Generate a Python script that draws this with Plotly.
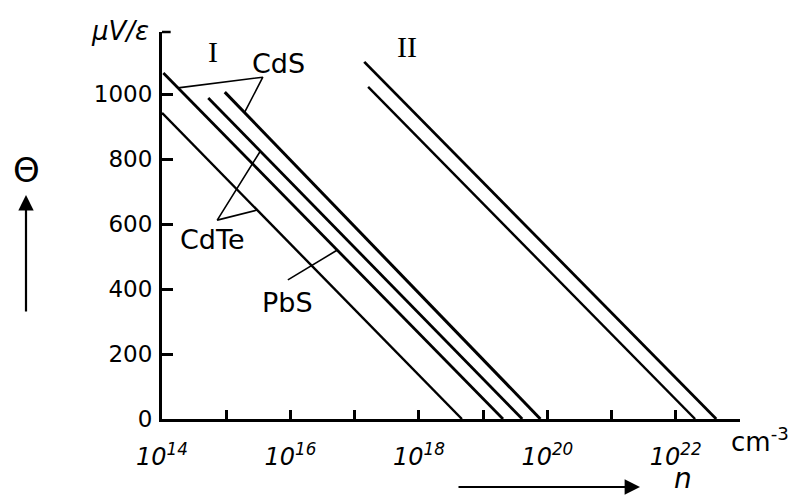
import plotly.graph_objects as go

# Thermoelectric power vs carrier concentration (straight lines on log n)
# Group I
pbs_n = [1.0e14, 4.68e18]
pbs_theta = [942, 0]

cds_a_n = [1.05e14, 2.04e19]
cds_a_theta = [1065, 0]

cdte_b_n = [5.25e14, 4.07e19]
cdte_b_theta = [988, 0]

cds_b_n = [9.5e14, 7.8e19]
cds_b_theta = [1006, 0]

# Group II
ii_upper_n = [1.41e17, 4.27e22]
ii_upper_theta = [1099, 0]

ii_lower_n = [1.62e17, 2.0e22]
ii_lower_theta = [1022, 0]

# Label leader lines (vertex first)
cds_ptr_n = [10.0**14.25, 10.0**15.57, 10.0**15.29]
cds_ptr_theta = [1019, 1052, 945]
cdte_ptr_n = [10.0**15.48, 10.0**14.86, 10.0**15.53]
cdte_ptr_theta = [643, 612, 824]
pbs_ptr_n = [10.0**15.96, 10.0**16.73]
pbs_ptr_theta = [428, 520]

# Axis ticks
x_tickvals = [10.0**k for k in range(14, 24)]
x_ticktext = ["10<sup>14</sup>", "", "10<sup>16</sup>", "", "10<sup>18</sup>", "",
              "10<sup>20</sup>", "", "10<sup>22</sup>", ""]
y_tickvals = [0, 200, 400, 600, 800, 1000]
y_ticktext = ["0", "200", "400", "600", "800", "1000"]

W, H = 795, 497
L, R, T, B = 162, 55, 32, 78
PW, PH = W - L - R, H - T - B


def px(x, y):
    return (x - L) / PW, (H - B - y) / PH


fig = go.Figure()

for xs, ys, w in [(pbs_n, pbs_theta, 2.4), (cds_a_n, cds_a_theta, 2.8),
                  (cdte_b_n, cdte_b_theta, 2.8), (cds_b_n, cds_b_theta, 3.0),
                  (ii_upper_n, ii_upper_theta, 2.8), (ii_lower_n, ii_lower_theta, 2.4)]:
    fig.add_trace(go.Scatter(x=xs, y=ys, mode="lines",
                             line=dict(color="black", width=w),
                             showlegend=False, hoverinfo="skip"))

for xs, ys in [(cds_ptr_n, cds_ptr_theta), (cdte_ptr_n, cdte_ptr_theta),
               (pbs_ptr_n, pbs_ptr_theta)]:
    fig.add_trace(go.Scatter(x=xs, y=ys, mode="lines",
                             line=dict(color="black", width=1.6),
                             showlegend=False, hoverinfo="skip"))

hand = "DejaVu Sans"

fig.update_xaxes(type="log", range=[14, 23], showline=True, linecolor="black",
                 linewidth=3, ticks="inside", ticklen=9, tickwidth=2.5,
                 tickcolor="black", tickvals=x_tickvals, ticktext=x_ticktext,
                 tickfont=dict(family=hand, size=24, color="black", style="italic"),
                 ticklabelstandoff=14, showgrid=False, zeroline=False)
fig.update_yaxes(range=[0, 1191], showline=True, linecolor="black", linewidth=3,
                 ticks="inside", ticklen=11, tickwidth=2.5, tickcolor="black",
                 tickvals=y_tickvals, ticktext=y_ticktext,
                 tickfont=dict(family=hand, size=23, color="black"),
                 ticklabelstandoff=2, showgrid=False, zeroline=False)

annotations = []


def text(x, y, s, size, family=hand, style="normal"):
    xp, yp = px(x, y)
    annotations.append(dict(x=xp, y=yp, xref="paper", yref="paper", text=s,
                            showarrow=False, xanchor="center", yanchor="middle",
                            font=dict(family=family, size=size, color="black",
                                      style=style)))


text(120, 31, "μV/ε", 26, style="italic")
text(213, 51, "I", 30, family="Liberation Serif")
text(407, 46, "II", 30, family="Liberation Serif")
text(278, 63, "CdS", 27)
text(212, 240, "CdTe", 27)
text(287, 302, "PbS", 27)
text(26, 170, "Θ", 34)
text(683, 478, "n", 28, style="italic")
text(760, 440, "cm<sup>-3</sup>", 26)

# Direction arrows for the axis quantities
hx, hy = px(26, 195)
annotations.append(dict(x=hx, y=hy, xref="paper", yref="paper", text="",
                        showarrow=True, ax=0, ay=118, arrowhead=2, arrowsize=1.4,
                        arrowwidth=2.2, arrowcolor="black"))
hx, hy = px(640, 487)
annotations.append(dict(x=hx, y=hy, xref="paper", yref="paper", text="",
                        showarrow=True, ax=-183, ay=0, arrowhead=2, arrowsize=1.4,
                        arrowwidth=2.2, arrowcolor="black"))

fig.update_layout(width=W, height=H, margin=dict(l=L, r=R, t=T, b=B),
                  plot_bgcolor="white", paper_bgcolor="white",
                  annotations=annotations,
                  shapes=[dict(type="line", xref="paper", yref="paper",
                               x0=0, x1=0.015, y0=1, y1=1,
                               line=dict(color="black", width=2.5))])

fig.write_html("out.html")
